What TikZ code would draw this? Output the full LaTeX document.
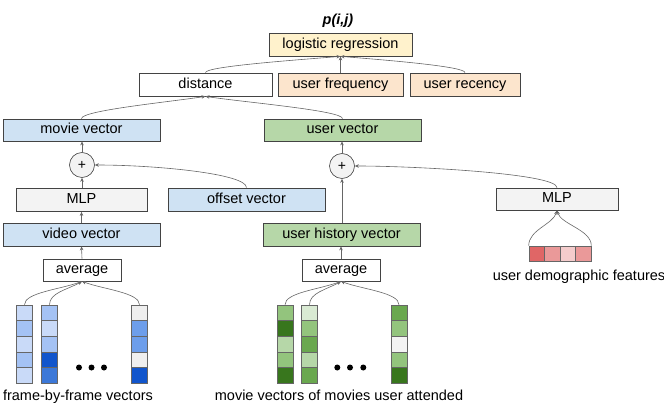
\documentclass[tikz,border=0pt]{standalone}
\usepackage{fontspec}
\setmainfont{Liberation Sans}
\usetikzlibrary{arrows.meta}
\definecolor{bordercol}{HTML}{434343}
\definecolor{linecol}{HTML}{666666}
\definecolor{cellborder}{HTML}{666666}
\definecolor{yel}{HTML}{FFF2CC}
\definecolor{ora}{HTML}{FCE5CD}
\definecolor{blu}{HTML}{CFE2F3}
\definecolor{grn}{HTML}{B6D7A8}
\definecolor{lgray}{HTML}{F3F3F3}
\definecolor{bl}{HTML}{C9DAF8}
\definecolor{bm}{HTML}{A4C2F4}
\definecolor{bb}{HTML}{6D9EEB}
\definecolor{bd}{HTML}{1155CC}
\definecolor{bdd}{HTML}{3C78D8}
\definecolor{gw}{HTML}{EFEFEF}
\definecolor{ga}{HTML}{D9EAD3}
\definecolor{gb}{HTML}{B6D7A8}
\definecolor{gc}{HTML}{93C47D}
\definecolor{gd}{HTML}{6AA84F}
\definecolor{ge}{HTML}{38761D}
\definecolor{ra}{HTML}{E06666}
\definecolor{rb}{HTML}{EA9999}
\definecolor{rc}{HTML}{F4CCCC}
\begin{document}
\begin{tikzpicture}[x=1pt,y=-1pt,
  font=\fontsize{14.5}{16}\selectfont,
  box/.style={draw=bordercol, line width=0.8pt, inner sep=0pt, text height=10.5pt, text depth=3pt, minimum height=23pt},
  conn/.style={draw=linecol, line width=0.6pt, -{Stealth[length=4pt,width=3.5pt]}},
  cell/.style={draw=cellborder, line width=0.6pt, minimum width=16pt, minimum height=15.67pt, inner sep=0pt},
  hcell/.style={draw=cellborder, line width=0.6pt, minimum width=15.5pt, minimum height=15pt, inner sep=0pt},
  plusnode/.style={circle, draw=bordercol, line width=0.6pt, fill=lgray, minimum size=25pt, inner sep=0pt, font=\fontsize{14}{14}\selectfont},
  lab/.style={inner sep=0pt, text height=10.5pt, text depth=3pt}]
\useasboundingbox (0,0) rectangle (664,406);

% top
\node[lab] (pij) at (338,21) {\textbf{\textit{p(i,j)}}};
\node[box, fill=yel, minimum width=143pt] (logistic) at (340.5,44.5) {logistic regression};
\node[box, fill=white, minimum width=133pt] (distance) at (205.5,84.5) {distance};
\node[box, fill=ora, minimum width=125pt] (ufreq) at (340.5,84.5) {user frequency};
\node[box, fill=ora, minimum width=110pt] (urec) at (465,84.5) {user recency};

\node[box, fill=blu, minimum width=157pt, minimum height=22pt] (movievec) at (81.5,130) {movie vector};
\node[box, fill=grn, minimum width=157pt, minimum height=22pt] (uservec) at (342.5,130) {user vector};

\node[plusnode] (plus1) at (82,165) {+};
\node[plusnode] (plus2) at (342,166) {+};

\node[box, fill=lgray, minimum width=131pt] (mlp1) at (81.5,200) {MLP};
\node[box, fill=blu, minimum width=157pt] (offset) at (246.5,199.5) {offset vector};
\node[box, fill=lgray, minimum width=122pt, minimum height=22pt] (mlp2) at (557,199) {MLP};

\node[box, fill=blu, minimum width=157pt] (video) at (81.5,234.5) {video vector};
\node[box, fill=grn, minimum width=157pt] (uhist) at (341.5,234.5) {user history vector};

\node[box, fill=white, minimum width=78pt, minimum height=22pt] (avg1) at (82,270) {average};
\node[box, fill=white, minimum width=78pt, minimum height=22pt] (avg2) at (341,270) {average};

% blue columns
\foreach \c [count=\i from 0] in {bl,bm,bl,bm,bl}
  \node[cell, fill=\c] (ba\i) at (24.5,{312.83+15.67*\i}) {};
\foreach \c [count=\i from 0] in {bm,bl,bm,bd,bdd}
  \node[cell, fill=\c] (bb\i) at (49.5,{312.83+15.67*\i}) {};
\foreach \c [count=\i from 0] in {gw,bb,bb,gw,bd}
  \node[cell, fill=\c] (bc\i) at (139.5,{312.83+15.67*\i}) {};
% green columns
\foreach \c [count=\i from 0] in {gc,ge,gb,gc,ge}
  \node[cell, fill=\c] (ga\i) at (285,{312.83+15.67*\i}) {};
\foreach \c [count=\i from 0] in {ga,gc,gd,gb,gd}
  \node[cell, fill=\c] (gb\i) at (309.5,{312.83+15.67*\i}) {};
\foreach \c [count=\i from 0] in {gd,gc,lgray,gc,ge}
  \node[cell, fill=\c] (gc\i) at (399,{312.83+15.67*\i}) {};
% demographic cells
\foreach \c [count=\i from 0] in {ra,rb,rc,rb}
  \node[hcell, fill=\c] (rd\i) at ({536.75+15.5*\i},253.5) {};

% dots
\foreach \x in {79,91.5,104,337.3,350,363.3}
  \fill[black] (\x,367.5) circle (3pt);

% labels
\node[lab] (lab1) at (78,397) {frame-by-frame vectors};
\node[lab] (lab2) at (339,397) {movie vectors of movies user attended};
\node[lab] (lab3) at (579,277) {user demographic features};

% connectors
\draw[conn] (distance.north) .. controls +(0,-6) and +(-50,4) .. (logistic.south);
\draw[conn] (ufreq.north) -- (logistic.south);
\draw[conn] (urec.north) .. controls +(0,-6) and +(50,4) .. (logistic.south);
\draw[conn] (movievec.north) .. controls +(0,-8) and +(-40,6) .. (distance.south);
\draw[conn] (uservec.north) .. controls +(0,-8) and +(40,6) .. (distance.south);
\draw[conn] (plus1.north) -- (plus1.north |- movievec.south);
\draw[conn] (mlp1.north -| plus1.south) -- (plus1.south);
\draw[conn] (offset.north) .. controls +(0,-14) and +(60,0) .. (plus1.east);
\draw[conn] (video.north) -- (mlp1.south);
\draw[conn] (avg1.north) -- (video.south);
\draw[conn] (plus2.north) -- (plus2.north |- uservec.south);
\draw[conn] (uhist.north -| plus2.south) -- (plus2.south);
\draw[conn] (mlp2.north) .. controls +(0,-14) and +(60,0) .. (plus2.east);
\draw[conn] (avg2.north) -- (avg2.north |- uhist.south);
\draw[conn] (ba0.north) .. controls +(0,-12) and +(-22,8) .. (avg1.south);
\draw[conn] (bb0.north) .. controls +(0,-12) and +(-14,8) .. (avg1.south);
\draw[conn] (bc0.north) .. controls +(0,-12) and +(22,8) .. (avg1.south);
\draw[conn] (ga0.north) .. controls +(0,-12) and +(-22,8) .. (avg2.south);
\draw[conn] (gb0.north) .. controls +(0,-12) and +(-14,8) .. (avg2.south);
\draw[conn] (gc0.north) .. controls +(0,-12) and +(22,8) .. (avg2.south);
\draw[conn] (rd0.north west) .. controls +(0,-16) and +(-4,14) .. (mlp2.south);
\draw[conn] (rd3.north east) .. controls +(0,-16) and +(4,14) .. (mlp2.south);
\end{tikzpicture}
\end{document}
